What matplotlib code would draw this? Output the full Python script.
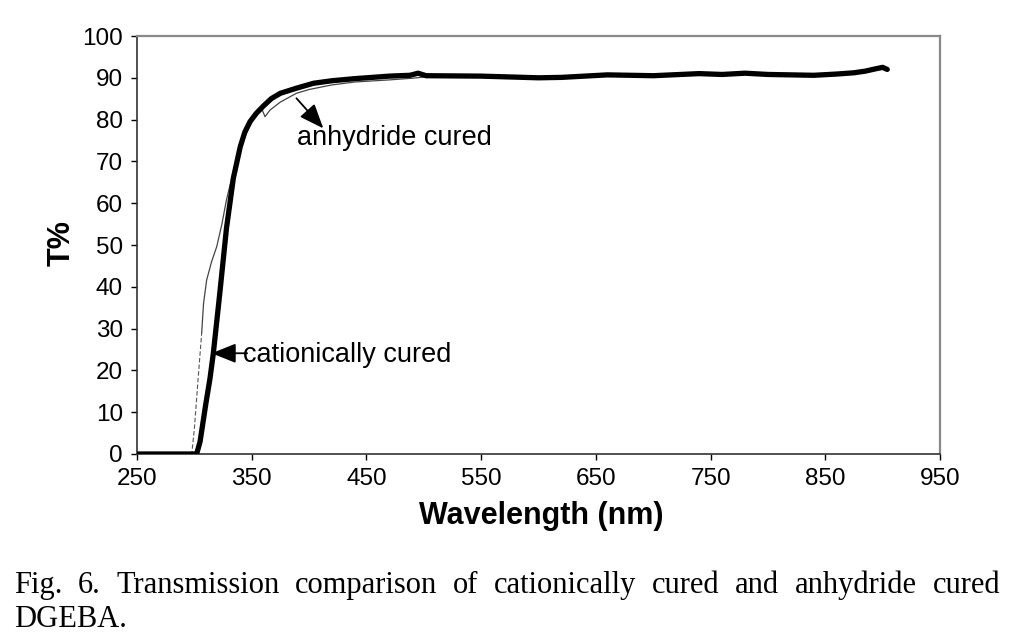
import matplotlib
matplotlib.use("Agg")
import matplotlib.pyplot as plt

# ---- data ----
wl_cationic = [250, 302, 305, 310, 313.6, 316.5, 322, 328, 334, 340, 344, 348.5, 354, 360,
               367, 375, 390, 404, 420, 440, 470, 488, 495, 502, 550, 600, 620, 660, 700,
               740, 760, 780, 800, 840, 860, 875, 885, 893, 900, 904]
T_cationic = [0, 0, 3, 12, 18, 24, 38, 54, 66, 73.5, 77, 79.5, 81.5, 83.2,
              85, 86.3, 87.6, 88.7, 89.3, 89.8, 90.4, 90.6, 91.1, 90.5, 90.4, 90.0, 90.1, 90.7, 90.5,
              91.0, 90.8, 91.1, 90.8, 90.6, 90.9, 91.2, 91.6, 92.1, 92.5, 92.0]

wl_anh_dash = [250, 297.7, 300, 303, 306.4]
T_anh_dash = [0, 0, 6, 17, 29]
wl_anhydride = [306.4, 308, 310.7, 315, 319.5, 324, 328, 333, 338, 342.7, 348, 353, 358.7,
                361.6, 366, 375, 389, 400, 420, 440, 470, 490, 505, 550, 600, 620, 660, 700,
                740, 760, 780, 800, 840, 860, 875, 885, 893, 900, 903]
T_anhydride = [29, 36, 41.6, 46, 49.6, 55, 60.8, 66.5, 71.5, 75.1, 78.3, 80.8, 82.6,
               80.7, 82.3, 84.2, 86.3, 87.2, 88.3, 89.0, 89.5, 89.9, 90.3, 90.4, 90.0, 90.1, 90.7, 90.5,
               91.0, 90.8, 91.1, 90.8, 90.6, 91.0, 91.4, 91.9, 92.3, 92.7, 92.3]

x_ticks = [250, 350, 450, 550, 650, 750, 850, 950]
y_ticks = [0, 10, 20, 30, 40, 50, 60, 70, 80, 90, 100]

caption_line1 = "Fig. 6.  Transmission comparison of cationically cured and anhydride cured"
caption_line2 = "DGEBA."

# ---- figure ----
W, H = 1009, 644
fig = plt.figure(figsize=(W / 100, H / 100), dpi=100)
ax = fig.add_axes([137 / W, 1 - 454 / H, (940 - 137) / W, (454 - 36) / H])

ax.plot(wl_anh_dash, T_anh_dash, color="#555555", lw=0.8, ls=(0, (4, 2)), zorder=2)
ax.plot(wl_anhydride, T_anhydride, color="#444444", lw=0.9, zorder=2)
ax.plot(wl_cationic, T_cationic, color="black", lw=3.8, solid_capstyle="round",
        solid_joinstyle="round", zorder=3)

ax.set_xlim(250, 950)
ax.set_ylim(0, 100)
ax.set_xticks(x_ticks)
ax.set_yticks(y_ticks)
ax.set_xticklabels([str(v) for v in x_ticks], family="Liberation Sans", fontsize=17.5)
ax.set_yticklabels([str(v) for v in y_ticks], family="Liberation Sans", fontsize=17.5)
ax.tick_params(direction="out", length=4, width=1, pad=6, colors="black")

for s in ["left", "bottom"]:
    ax.spines[s].set_color("#333333")
    ax.spines[s].set_linewidth(1.2)
for s in ["top", "right"]:
    ax.spines[s].set_color("#888888")
    ax.spines[s].set_linewidth(1.6)

arrow = dict(arrowstyle="-|>,head_length=1.0,head_width=0.4", color="black", lw=1.3,
             shrinkA=0, shrinkB=0, mutation_scale=15)
ax.annotate("", xy=(412.4, 77.9), xytext=(389, 85.1), arrowprops=arrow, zorder=4)
ax.text(389.5, 75.6, "anhydride cured", family="Liberation Sans", fontsize=19.5,
        ha="left", va="center")
ax.annotate("", xy=(315, 24.1), xytext=(346, 24.1), arrowprops=arrow, zorder=4)
ax.text(342.4, 23.6, "cationically cured", family="Liberation Sans", fontsize=19.5,
        ha="left", va="center")

fig.text(62 / W, 1 - 243 / H, "T%", family="Liberation Sans", fontsize=22,
         fontweight="bold", rotation=90, ha="center", va="center")
fig.text(541 / W, 1 - 516 / H, "Wavelength (nm)", family="Liberation Sans", fontsize=22,
         fontweight="bold", ha="center", va="center")

# ---- justified caption ----
fig.canvas.draw()
r = fig.canvas.get_renderer()
words = caption_line1.split()
cap_kw = dict(family="Liberation Serif", fontsize=22, va="baseline", ha="left")
widths = []
for w_ in words:
    t = fig.text(0, 0, w_, **cap_kw)
    widths.append(t.get_window_extent(r).width)
    t.remove()
left, right = 14, 1000
gap = (right - left - sum(widths)) / (len(words) - 1)
x = left
for w_, wd in zip(words, widths):
    fig.text(x / W, 1 - 593 / H, w_, **cap_kw)
    x += wd + gap
fig.text(left / W, 1 - 627 / H, caption_line2, **cap_kw)

fig.savefig("out.png", dpi=100)
